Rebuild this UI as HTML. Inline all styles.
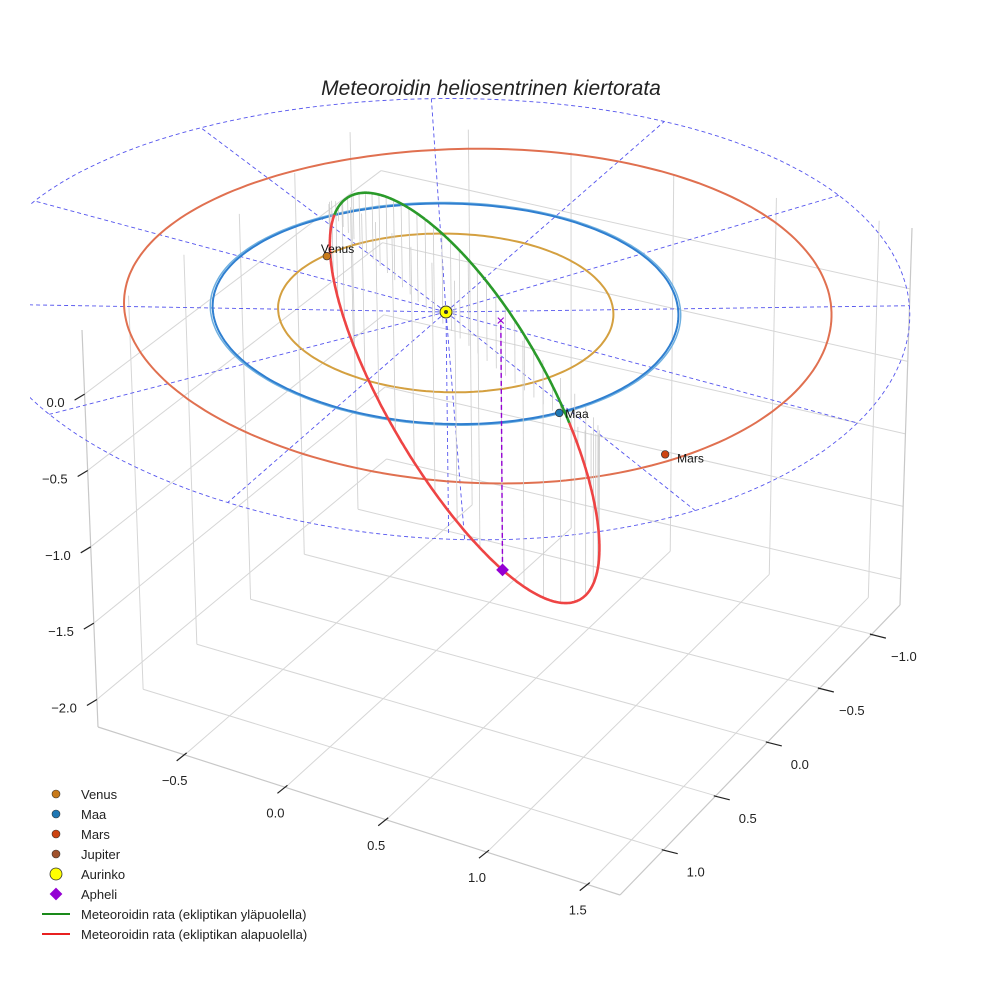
<!DOCTYPE html>
<html><head><meta charset="utf-8">
<style>
body{margin:0;background:#fff;}
svg{display:block;font-family:"Liberation Sans",sans-serif;}
</style></head>
<body>
<svg id="chart" width="984" height="984" viewBox="0 0 984 984" xmlns="http://www.w3.org/2000/svg">
<defs><clipPath id="plotclip"><rect x="30" y="60" width="890" height="700"/></clipPath></defs>
<text x="491" y="95" text-anchor="middle" font-size="21" font-style="italic" fill="#222">Meteoroidin heliosentrinen kiertorata</text>
<g id="box"></g>
<g id="grid" clip-path="url(#plotclip)"></g>
<g id="marks"></g>
<g id="legend" font-size="13" fill="#222">
 <g><circle cx="56" cy="794" r="4" fill="#c87a1a" stroke="#333" stroke-width="0.6"/><text x="81" y="799">Venus</text></g>
 <g><circle cx="56" cy="814" r="4" fill="#1f77b4" stroke="#333" stroke-width="0.6"/><text x="81" y="819">Maa</text></g>
 <g><circle cx="56" cy="834" r="4" fill="#cc4411" stroke="#333" stroke-width="0.6"/><text x="81" y="839">Mars</text></g>
 <g><circle cx="56" cy="854" r="4" fill="#a0522d" stroke="#333" stroke-width="0.6"/><text x="81" y="859">Jupiter</text></g>
 <g><circle cx="56" cy="874" r="6" fill="#ffff00" stroke="#333" stroke-width="0.8"/><text x="81" y="879">Aurinko</text></g>
 <g><rect x="51.5" y="889.5" width="9" height="9" fill="#9400d3" transform="rotate(45 56 894)"/><text x="81" y="899">Apheli</text></g>
 <g><line x1="42" y1="914" x2="70" y2="914" stroke="#1a8a1a" stroke-width="2"/><text x="81" y="919">Meteoroidin rata (ekliptikan yläpuolella)</text></g>
 <g><line x1="42" y1="934" x2="70" y2="934" stroke="#e82020" stroke-width="2"/><text x="81" y="939">Meteoroidin rata (ekliptikan alapuolella)</text></g>
</g>
</svg>
<script>
// ---- data ----
const xTicks = [-0.5, 0.0, 0.5, 1.0, 1.5];
const yTicks = [-1.0, -0.5, 0.0, 0.5, 1.0];
const zTicks = [-2.0, -1.5, -1.0, -0.5, 0.0];
const xTickLabels = ["\u22120.5","0.0","0.5","1.0","1.5"];
const yTickLabels = ["\u22121.0","\u22120.5","0.0","0.5","1.0"];
const zTickLabels = ["\u22122.0","\u22121.5","\u22121.0","\u22120.5","0.0"];
const planetNames = ["Venus","Maa","Mars"];
const planetOrbitRadii = [0.72, 1.0, 1.52];
const planetOrbitEcc = [0.0, 0.0, 0.093];
const planetApheliaDeg = [0, 0, -30];
const planetX = [-0.683, 0.84, 1.40];
const planetY = [-0.194, 0.55, 0.64];
const aphelionPos = [0.24, -0.05, -1.95];
const earthOnOrbit = [0.84, 0.55, 0];
const gridRadii = [1.0, 2.0];
const gridSpokeAngles = [0,30,60,90,120,150,180,210,240,270,300,330];

// ---- projection (perspective approximated by trilinear corner map) ----
const xmin=-0.93,xmax=1.66,ymin=-1.27,ymax=1.42,zmin=-2.18,zmax=0.42;
const C={ '000':[387,485],'100':[900,605],'010':[98,727],'110':[620,895],
          '001':[380,110],'101':[912,228],'011':[82,330],'111':[622,470] };
function lerp(a,b,t){return [a[0]+(b[0]-a[0])*t,a[1]+(b[1]-a[1])*t];}
function Pb(x,y,z){
  const u=(x-xmin)/(xmax-xmin), v=(y-ymin)/(ymax-ymin), w=(z-zmin)/(zmax-zmin);
  const b=lerp(lerp(C['000'],C['100'],u),lerp(C['010'],C['110'],u),v);
  const t=lerp(lerp(C['001'],C['101'],u),lerp(C['011'],C['111'],u),v);
  return lerp(b,t,w);
}
const S0=Pb(0,0,0);
function P(x,y,z){
  const g=Pb(x,y,0), h=Pb(x,y,z);
  const gx=446+(g[0]-S0[0]), gy=312+(g[1]-S0[1])*1.1;
  return [gx+(h[0]-g[0])*0.85, gy+(h[1]-g[1])*0.85];
}
const NS="http://www.w3.org/2000/svg";
function mk(tag, attrs, parent){ const e=document.createElementNS(NS,tag); for(const k in attrs) e.setAttribute(k,attrs[k]); parent.appendChild(e); return e; }
function pts(arr){ return arr.map(p=>p[0].toFixed(1)+","+p[1].toFixed(1)).join(" "); }

const box=document.getElementById('box'), grid=document.getElementById('grid'), marks=document.getElementById('marks');
function seg(a,b,parent,st,w){ return mk('line',{x1:a[0],y1:a[1],x2:b[0],y2:b[1],stroke:st,'stroke-width':w},parent); }
const gc="#d6d6d6";
xTicks.forEach(v=>{ let l=seg(Pb(v,ymin,zmin),Pb(v,ymax,zmin),box,gc,1);  
  l=seg(Pb(v,ymin,zmin),Pb(v,ymin,zmax),box,gc,1);   });
yTicks.forEach(v=>{ let l=seg(Pb(xmin,v,zmin),Pb(xmax,v,zmin),box,gc,1);  
  l=seg(Pb(xmin,v,zmin),Pb(xmin,v,zmax),box,gc,1);   });
zTicks.forEach(v=>{ let l=seg(Pb(xmin,ymax,v),Pb(xmin,ymin,v),box,gc,1);  
  l=seg(Pb(xmin,ymin,v),Pb(xmax,ymin,v),box,gc,1);   });
[[Pb(xmin,ymax,zmin),Pb(xmax,ymax,zmin)],[Pb(xmax,ymax,zmin),Pb(xmax,ymin,zmin)],[Pb(xmin,ymax,zmin),Pb(xmin,ymax,zmax)],[Pb(xmax,ymin,zmin),Pb(xmax,ymin,zmax)]].forEach(s=>{
  const l=seg(s[0],s[1],box,"#c8c8c8",1.2);   });
xTicks.forEach((v,i)=>{ const a=Pb(v,ymax,zmin); const b=[a[0]-8,a[1]+6];
  const l=seg([a[0]+2,a[1]-2],b,box,"#222",1.2);  
  const t=mk('text',{x:a[0]-10,y:a[1]+30,'text-anchor':'middle','font-size':13,fill:'#222'},box); t.textContent=xTickLabels[i];
    });
yTicks.forEach((v,i)=>{ const a=Pb(xmax,v,zmin); const b=[a[0]+14,a[1]+4];
  const l=seg([a[0]-2,a[1]],b,box,"#222",1.2);  
  const t=mk('text',{x:a[0]+32,y:a[1]+27,'text-anchor':'middle','font-size':13,fill:'#222'},box); t.textContent=yTickLabels[i];
    });
zTicks.forEach((v,i)=>{ const a=Pb(xmin,ymax,v); const b=[a[0]-10,a[1]+6];
  const l=seg([a[0],a[1]],b,box,"#222",1.2);  
  const t=mk('text',{x:a[0]-20,y:a[1]+13,'text-anchor':'end','font-size':13,fill:'#222'},box); t.textContent=zTickLabels[i];
    });

// ecliptic dashed grid
function ring(a,e,apDeg,n){ const arr=[]; const t0=apDeg*Math.PI/180; const cx=a*e*Math.cos(t0), cy=a*e*Math.sin(t0); const b=a*Math.sqrt(1-e*e);
  for(let k=0;k<=n;k++){ const t=2*Math.PI*k/n; const lx=a*Math.cos(t), ly=b*Math.sin(t);
    arr.push(P(cx+lx*Math.cos(t0)-ly*Math.sin(t0), cy+lx*Math.sin(t0)+ly*Math.cos(t0), 0)); } return arr; }
gridRadii.forEach(r=>{ const e=mk('polyline',{points:pts(ring(r,0,0,180)),fill:'none',stroke:'#5555ee','stroke-width':0.9,'stroke-dasharray':'4,3'},grid);
    });
gridSpokeAngles.forEach(d=>{ const t=d*Math.PI/180, r=gridRadii[gridRadii.length-1];
  const l=seg(P(0,0,0),P(r*Math.cos(t),r*Math.sin(t),0),grid,'#5555ee',0.9); l.setAttribute('stroke-dasharray','4,3');
    });
{ const l=seg(P(0,0,0),P(0,0,-1.75),grid,'#5555ee',0.9); l.setAttribute('stroke-dasharray','4,3');   }

// planet orbits
const orbitColors=["#d4a040","#2f7fd0","#e07050"];
planetOrbitRadii.forEach((r,i)=>{
  if(i===1){ const e2=mk('polyline',{points:pts(ring(r*1.01,0,0,240)),fill:'none',stroke:'#6fb0e0','stroke-width':1.5},marks);
      }
  const e=mk('polyline',{points:pts(ring(r,planetOrbitEcc[i],planetApheliaDeg[i],240)),fill:'none',stroke:orbitColors[i],'stroke-width':2},marks);
    });

// meteoroid orbit
function norm(v){const n=Math.hypot(...v);return v.map(c=>c/n);}
function dot(a,b){return a[0]*b[0]+a[1]*b[1]+a[2]*b[2];}
const Qd=Math.hypot(...aphelionPos);
const Pv=norm(aphelionPos.map(c=>-c));
const Eh=norm(earthOnOrbit);
const cE=dot(Eh,Pv);
const ecc=(Qd-1)/(Qd-cE);
const pLat=Qd*(1-ecc);
const Qv=norm(Eh.map((c,k)=>c-cE*Pv[k]));
function orbitPt(nu){ const r=pLat/(1+ecc*Math.cos(nu)); return [0,1,2].map(k=>r*(Math.cos(nu)*Pv[k]+Math.sin(nu)*Qv[k])); }
const orbitPts=[]; for(let k=0;k<=720;k++){ orbitPts.push(orbitPt(2*Math.PI*k/720)); }
for(let k=0;k<720;k+=12){ const p=orbitPts[k]; const l=seg(P(p[0],p[1],p[2]),P(p[0],p[1],0),marks,'#cccccc',0.8);
    }
let cur=[],curSign=null;
function flush(){ if(cur.length>1){ const e=mk('polyline',{points:pts(cur),fill:'none',stroke:curSign?'#2a9a2a':'#ee4444','stroke-width':2.6},marks);
    } }
orbitPts.forEach(p=>{ const s=p[2]>=0; const sp=P(p[0],p[1],p[2]); if(curSign===null)curSign=s; if(s!==curSign){cur.push(sp);flush();cur=[sp];curSign=s;} else cur.push(sp); });
flush();

// aphelion
{ const a=P(...aphelionPos), b=P(aphelionPos[0],aphelionPos[1],0);
  const l=seg(a,b,marks,'#9400d3',1.4); l.setAttribute('stroke-dasharray','5,3');  
  const x=mk('text',{x:b[0],y:b[1]+5,'text-anchor':'middle','font-size':15,fill:'#9400d3'},marks); x.textContent='\u00d7';  
  const d=mk('rect',{x:a[0]-4.5,y:a[1]-4.5,width:9,height:9,fill:'#9400d3',transform:`rotate(45 ${a[0]} ${a[1]})`},marks);   }

// planets
const pColors=["#c87a1a","#1f77b4","#cc4411"];
const lblOff=[[-6,-3],[6,5],[12,8]];
planetNames.forEach((n,i)=>{ const s=P(planetX[i],planetY[i],0);
  const c=mk('circle',{cx:s[0],cy:s[1],r:3.8,fill:pColors[i],stroke:'#333','stroke-width':0.7},marks);  
  const t=mk('text',{x:s[0]+lblOff[i][0],y:s[1]+lblOff[i][1],'font-size':12,fill:'#111'},marks); t.textContent=n;   });
{ const s=P(0,0,0);
  const c=mk('circle',{cx:s[0],cy:s[1],r:6,fill:'#ffff00',stroke:'#333','stroke-width':1},marks);  
  const d=mk('circle',{cx:s[0],cy:s[1],r:2,fill:'#333'},marks);   }
</script>
</body></html>
